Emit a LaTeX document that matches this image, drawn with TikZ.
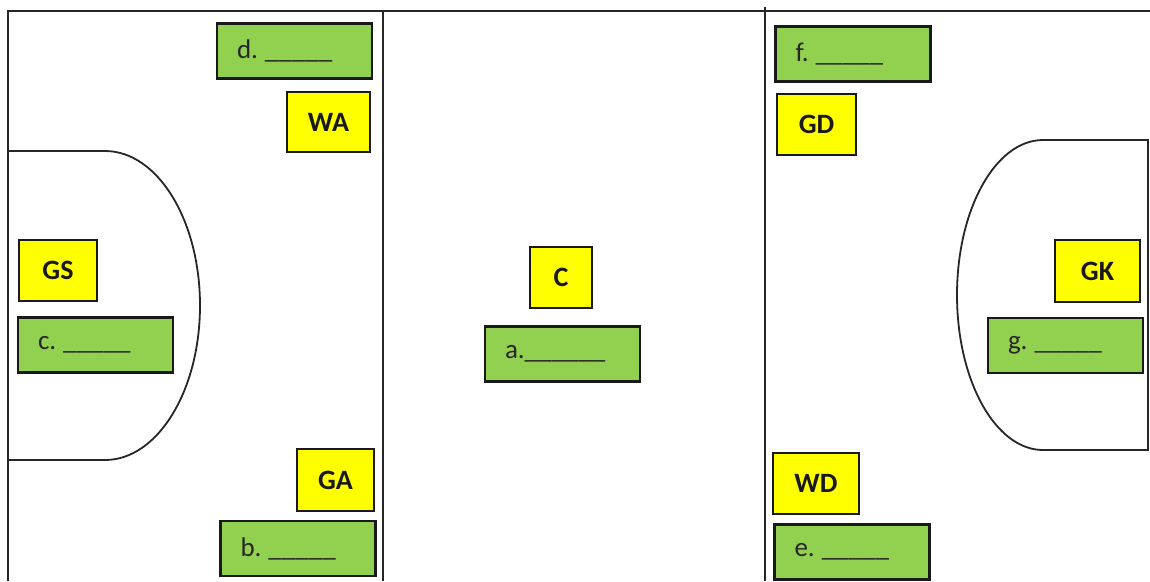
\documentclass[tikz,border=0pt]{standalone}
\usepackage{fontspec}
\setmainfont{Carlito}
\definecolor{fieldgreen}{RGB}{146,208,80}
\definecolor{posyellow}{RGB}{255,255,0}
\begin{document}
\begin{tikzpicture}[x=1pt,y=-1pt,
  court/.style={draw=black!85, line width=1.8pt},
  gbox/.style={draw=black!90, line width=2.2pt, fill=fieldgreen, text width=115pt, inner xsep=20pt, minimum height=55pt, align=left, font=\fontsize{27}{31}\selectfont, text=black!85},
  ybox/.style={draw=black!90, line width=2.2pt, fill=posyellow, inner sep=0pt, font=\bfseries\fontsize{28}{32}\selectfont, text=black!90}]
\useasboundingbox (0,0) rectangle (1150,581);
% court lines
\draw[court] (8,581) -- (8,11) -- (1150,11);
\draw[court] (383,11) -- (383,581);
\draw[court] (765,7) -- (765,581);
% left goal circle
\draw[court] (8,151) -- (105,151) .. controls (157.5,151) and (200,220.2) .. (200,305.5)
  .. controls (200,390.8) and (157.5,460) .. (105,460) -- (8,460);
% right goal circle
\draw[court] (1148,140) -- (1043,140) .. controls (995.5,140) and (957,209.4) .. (957,295)
  .. controls (957,380.6) and (995.5,450) .. (1043,450) -- (1148,450) -- cycle;
% position boxes
\node[ybox, minimum width=83pt, minimum height=60pt] (WA) at (328.5,122) {WA};
\node[ybox, minimum width=78pt, minimum height=61pt] (GS) at (58,270.5) {GS};
\node[ybox, minimum width=77pt, minimum height=62pt] (GA) at (335.5,480) {GA};
\node[ybox, minimum width=62pt, minimum height=61pt] (C) at (561,277.5) {C};
\node[ybox, minimum width=79pt, minimum height=61pt] (GD) at (816.5,124.5) {GD};
\node[ybox, minimum width=85pt, minimum height=62pt] (GK) at (1097.5,271) {GK};
\node[ybox, minimum width=86pt, minimum height=61pt] (WD) at (816,483.5) {WD};
% answer boxes
\node[gbox] (d) at (294.5,51) {d.\hspace{7pt}\_\_\_\_\_};
\node[gbox] (c) at (95.5,345) {c.\hspace{7pt}\_\_\_\_\_};
\node[gbox] (b) at (298,548.5) {b.\hspace{7pt}\_\_\_\_\_};
\node[gbox] (a) at (562.5,354) {a.\_\_\_\_\_\_};
\node[gbox] (f) at (853,54) {f.\hspace{7pt}\_\_\_\_\_};
\node[gbox] (g) at (1065.5,345.5) {g.\hspace{7pt}\_\_\_\_\_};
\node[gbox] (e) at (852,552) {e.\hspace{7pt}\_\_\_\_\_};
\end{tikzpicture}
\end{document}
